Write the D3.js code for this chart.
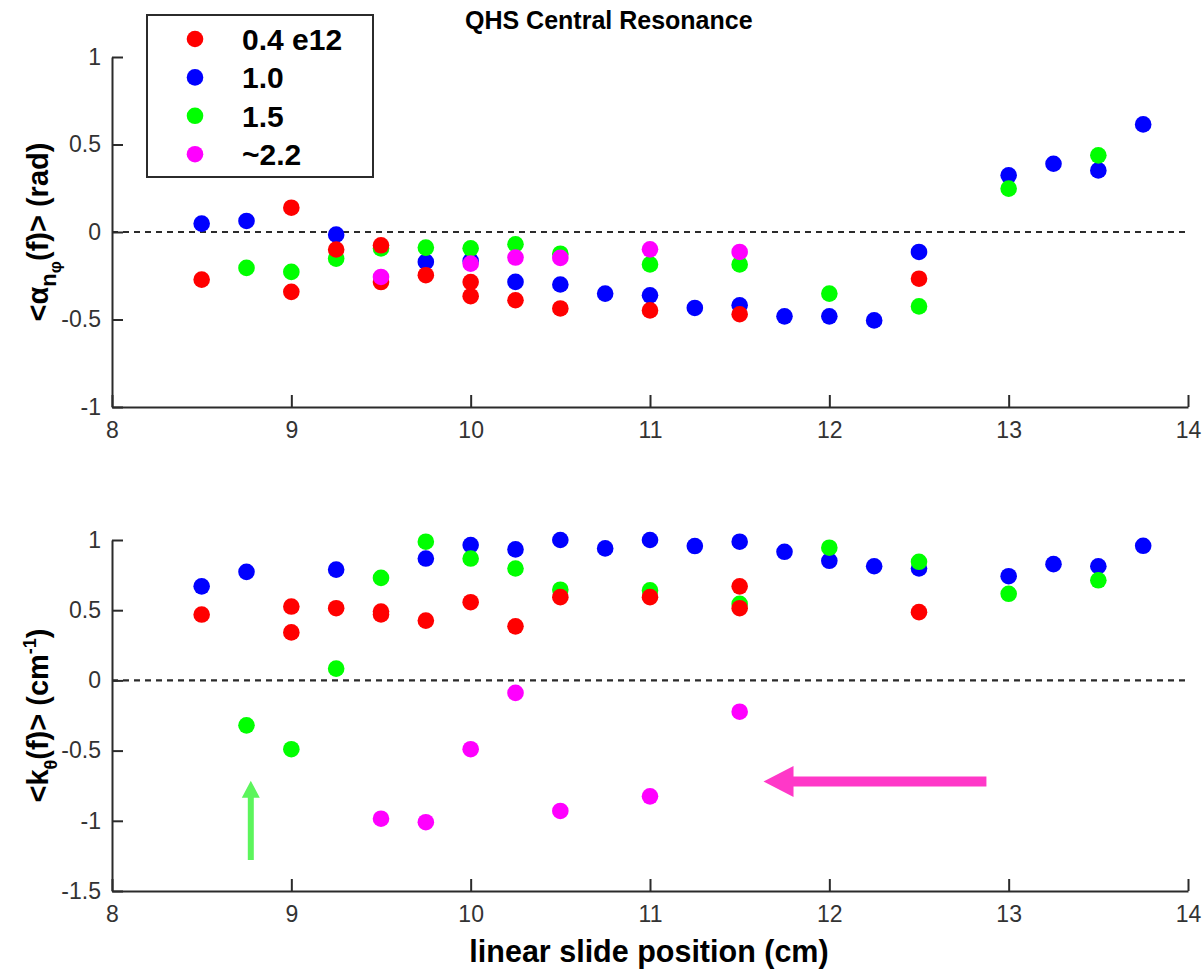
<!DOCTYPE html>
<html>
<head>
<meta charset="utf-8">
<script src="https://cdn.jsdelivr.net/npm/d3@7"></script>
<style>
  html, body { margin: 0; padding: 0; background: #fff; }
  svg { display: block; }
  text { font-family: "Liberation Sans", Arial, Helvetica, sans-serif; }
</style>
</head>
<body>
<svg id="chart" width="1204" height="969"></svg>
<script>
// ---------------- data ----------------
const seriesNames = ["0.4 e12", "1.0", "1.5", "~2.2"];
const seriesColors = ["#ff0000", "#0000ff", "#00ff00", "#ff00ff"];
const drawOrder = [1, 2, 0, 3]; // blue, green, red, magenta (later on top)

const xTicks = [8, 9, 10, 11, 12, 13, 14];
const yTicksTop = [-1, -0.5, 0, 0.5, 1];
const yTicksBottom = [-1.5, -1, -0.5, 0, 0.5, 1];

// top panel: <alpha_n_phi(f)> (rad)
const topRedX   = [8.5, 9, 9, 9.25, 9.5, 9.5, 9.75, 10, 10, 10.25, 10.5, 11, 11.5, 12.5];
const topRedY   = [-0.272, 0.139, -0.342, -0.10, -0.076, -0.286, -0.247, -0.286, -0.367, -0.39, -0.437, -0.448, -0.47, -0.267];
const topBlueX  = [8.5, 8.75, 9.25, 9.75, 10, 10.25, 10.5, 10.75, 11, 11.25, 11.5, 11.75, 12, 12.25, 12.5, 13, 13.25, 13.5, 13.75];
const topBlueY  = [0.048, 0.063, -0.015, -0.171, -0.165, -0.285, -0.30, -0.352, -0.362, -0.434, -0.419, -0.482, -0.482, -0.505, -0.114, 0.324, 0.39, 0.352, 0.615];
const topGreenX = [8.75, 9, 9.25, 9.5, 9.75, 10, 10.25, 10.5, 11, 11.5, 12, 12.5, 13, 13.5];
const topGreenY = [-0.205, -0.228, -0.152, -0.094, -0.089, -0.093, -0.07, -0.124, -0.185, -0.185, -0.352, -0.425, 0.248, 0.438];
const topMagX   = [9.5, 10, 10.25, 10.5, 11, 11.5];
const topMagY   = [-0.257, -0.181, -0.146, -0.148, -0.099, -0.114];

// bottom panel: <k_theta(f)> (cm^-1)
const botRedX   = [8.5, 9, 9, 9.25, 9.5, 9.5, 9.75, 10, 10.25, 10.5, 11, 11.5, 11.5, 12.5];
const botRedY   = [0.469, 0.526, 0.342, 0.514, 0.49, 0.47, 0.426, 0.557, 0.385, 0.593, 0.593, 0.67, 0.514, 0.486];
const botBlueX  = [8.5, 8.75, 9.25, 9.75, 10, 10.25, 10.5, 10.75, 11, 11.25, 11.5, 11.75, 12, 12.25, 12.5, 13, 13.25, 13.5, 13.75];
const botBlueY  = [0.67, 0.773, 0.789, 0.868, 0.964, 0.933, 1.0, 0.94, 1.0, 0.957, 0.988, 0.916, 0.852, 0.813, 0.797, 0.742, 0.828, 0.813, 0.959];
const botGreenX = [8.75, 9, 9.25, 9.5, 9.75, 10, 10.25, 10.5, 11, 11.5, 12, 12.5, 13, 13.5];
const botGreenY = [-0.32, -0.49, 0.084, 0.73, 0.988, 0.868, 0.797, 0.646, 0.641, 0.545, 0.945, 0.845, 0.617, 0.713];
const botMagX   = [9.5, 9.75, 10, 10.25, 10.5, 11, 11.5];
const botMagY   = [-0.985, -1.01, -0.49, -0.089, -0.93, -0.826, -0.223];

// annotation arrows (data coordinates of bottom panel)
const greenArrow = { x: 8.774, tail: -1.28, tip: -0.714 };
const pinkArrow  = { y: -0.72, tail: 12.876, tip: 11.633 };

// ---------------- layout ----------------
const svg = d3.select("#chart");
const axisColor = "#2b2b2b";
const x = d3.scaleLinear().domain([8, 14]).range([112, 1188]);
const yTop = d3.scaleLinear().domain([-1, 1]).range([407, 57]);
const yBot = d3.scaleLinear().domain([-1.5, 1]).range([891, 540]);

const topSeries = [
  [topRedX, topRedY], [topBlueX, topBlueY], [topGreenX, topGreenY], [topMagX, topMagY]
];
const botSeries = [
  [botRedX, botRedY], [botBlueX, botBlueY], [botGreenX, botGreenY], [botMagX, botMagY]
];

function drawPanel(y, yTicks, series) {
  const g = svg.append("g");
  // zero line
  g.append("line")
    .attr("x1", x(8)).attr("x2", x(14))
    .attr("y1", y(0)).attr("y2", y(0))
    .attr("stroke", axisColor).attr("stroke-width", 2.2)
    .attr("stroke-dasharray", "6,5");
  // axes
  const xa = g.append("g").attr("transform", `translate(0,${y.range()[0]})`)
    .call(d3.axisBottom(x).tickValues(xTicks).tickFormat(d => String(d))
      .tickSize(-12).tickSizeOuter(0).tickPadding(15));
  const ya = g.append("g").attr("transform", `translate(${x(8)},0)`)
    .call(d3.axisLeft(y).tickValues(yTicks).tickFormat(d => String(d))
      .tickSize(-11).tickSizeOuter(0).tickPadding(11));
  [xa, ya].forEach(a => {
    a.select(".domain").attr("stroke", axisColor).attr("stroke-width", 2);
    a.selectAll(".tick line").attr("stroke", axisColor).attr("stroke-width", 2);
    a.selectAll(".tick text").attr("fill", "#333").attr("font-size", 23)
      .style("font-family", '"Liberation Sans", Arial, sans-serif');
  });
  // points
  drawOrder.forEach(si => {
    const [xs, ys] = series[si];
    g.append("g").selectAll("circle")
      .data(xs.map((v, i) => [v, ys[i]]))
      .join("circle")
      .attr("cx", d => x(d[0]))
      .attr("cy", d => y(d[1]))
      .attr("r", 8.3)
      .attr("fill", seriesColors[si]);
  });
}

drawPanel(yTop, yTicksTop, topSeries);
drawPanel(yBot, yTicksBottom, botSeries);

// title
svg.append("text")
  .attr("x", 465).attr("y", 29)
  .attr("font-size", 25).attr("font-weight", "bold").attr("fill", "#000")
  .text("QHS Central Resonance");

// x label
svg.append("text")
  .attr("x", 649).attr("y", 962)
  .attr("text-anchor", "middle")
  .attr("font-size", 30.5).attr("font-weight", "bold").attr("fill", "#000")
  .text("linear slide position (cm)");

// y labels
const yl1 = svg.append("text")
  .attr("transform", `translate(48,${(yTop.range()[0] + yTop.range()[1]) / 2}) rotate(-90)`)
  .attr("text-anchor", "middle")
  .attr("font-size", 29).attr("font-weight", "bold").attr("fill", "#000");
yl1.append("tspan").text("<α");
yl1.append("tspan").attr("font-size", 22).attr("dy", 8).text("n");
yl1.append("tspan").attr("font-size", 17).attr("dy", 5).text("φ");
yl1.append("tspan").attr("dy", -13).text("(f)> (rad)");

const yl2 = svg.append("text")
  .attr("transform", `translate(48,${(yBot.range()[0] + yBot.range()[1]) / 2}) rotate(-90)`)
  .attr("text-anchor", "middle")
  .attr("font-size", 29).attr("font-weight", "bold").attr("fill", "#000");
yl2.append("tspan").text("<k");
yl2.append("tspan").attr("font-size", 18).attr("dy", 9).text("θ");
yl2.append("tspan").attr("dy", -9).text("(f)> (cm");
yl2.append("tspan").attr("font-size", 18).attr("dy", -12).text("-1");
yl2.append("tspan").attr("dy", 12).text(")");

// legend
const leg = svg.append("g");
leg.append("rect")
  .attr("x", 147).attr("y", 15).attr("width", 226).attr("height", 162)
  .attr("fill", "#fff").attr("stroke", axisColor).attr("stroke-width", 2);
seriesNames.forEach((name, i) => {
  const cy = 39 + i * 38.4;
  leg.append("circle").attr("cx", 195).attr("cy", cy).attr("r", 8.3).attr("fill", seriesColors[i]);
  leg.append("text").attr("x", 242).attr("y", cy + 11)
    .attr("font-size", 30).attr("font-weight", "bold").attr("fill", "#000")
    .text(name);
});

// arrows
const ga = greenArrow;
const gx = x(ga.x), gTip = yBot(ga.tip), gTail = yBot(ga.tail);
svg.append("path")
  .attr("d", `M${gx - 3},${gTail} L${gx - 3},${gTip + 17} L${gx - 9},${gTip + 17} L${gx},${gTip} L${gx + 9},${gTip + 17} L${gx + 3},${gTip + 17} L${gx + 3},${gTail} Z`)
  .attr("fill", "#5cf55c");

const pa = pinkArrow;
const py = yBot(pa.y), pTip = x(pa.tip), pTail = x(pa.tail);
svg.append("path")
  .attr("d", `M${pTail},${py - 5} L${pTip + 30},${py - 5} L${pTip + 30},${py - 15.5} L${pTip},${py} L${pTip + 30},${py + 15.5} L${pTip + 30},${py + 5} L${pTail},${py + 5} Z`)
  .attr("fill", "#ff38c8");
</script>
</body>
</html>
